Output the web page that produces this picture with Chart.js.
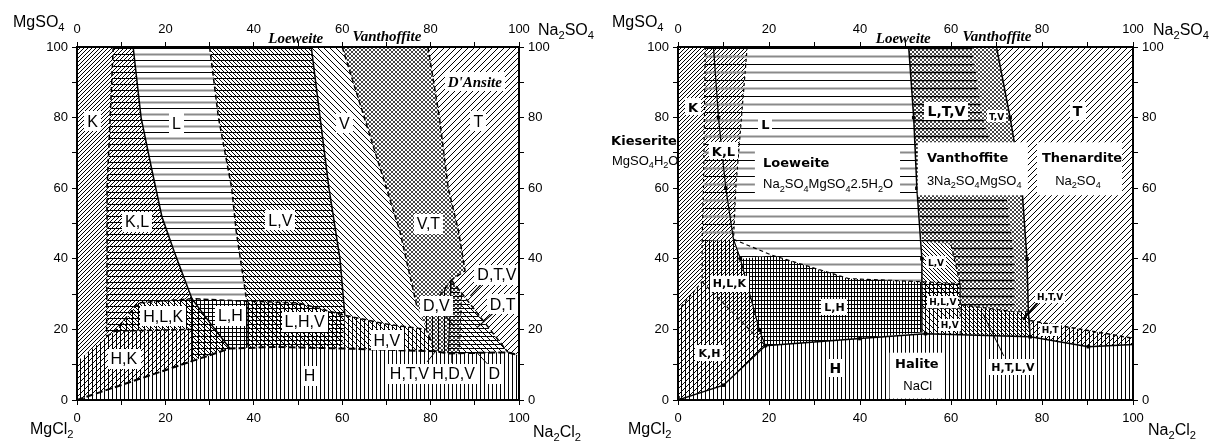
<!DOCTYPE html>
<html><head><meta charset="utf-8">
<script src="https://cdn.jsdelivr.net/npm/chart.js@4.4.1/dist/chart.umd.min.js"></script>
<style>
html,body{margin:0;padding:0;background:#fff;}
#wrap{position:relative;width:1210px;height:444px;overflow:hidden;background:#fff;}
#c1{position:absolute;left:0;top:0;}
#c2{position:absolute;left:605px;top:0;}
</style></head><body>
<div id="wrap"><canvas id="c1" width="600" height="444"></canvas><canvas id="c2" width="605" height="444"></canvas></div>
<script>
// ---------------- axis ticks ----------------
const tickValues = [0, 20, 40, 60, 80, 100];
const topNames = [['Loeweite', 49.5], ['Vanthoffite', 70.1]];

// ---------------- LEFT diagram regions (x = Na2 %, y = SO4 %) ----------------
const lK   = [[0,11],[0,100],[8.2,100],[7.5,80],[6.8,60],[6.8,40],[6.7,18]];
const lKL  = [[8.2,100],[12.7,100],[14.5,80],[16.8,66],[19.2,52],[22,42],[26,28.7],[13.8,27.5],[8.6,19.5],[6.7,18],[6.8,40],[6.8,60],[7.5,80]];
const lL   = [[12.7,100],[30,100],[32,80],[35,60],[36,48],[38.4,28],[26,28.7],[22,42],[19.2,52],[16.8,66],[14.5,80]];
const lLV  = [[30,100],[53,100],[55,80],[57,60],[59.5,40],[60.6,24],[50,27.5],[38.4,28],[36,48],[35,60],[32,80]];
const lV   = [[53,100],[60,100],[65,80],[70,60],[73,48],[76.8,27],[79,20],[70,21.5],[60.6,24],[59.5,40],[57,60],[55,80]];
const lVT  = [[60,100],[79.4,100],[82,80],[84,60],[86.3,48],[87.8,36.6],[84.7,34],[80.5,27],[76.8,27],[73,48],[70,60],[65,80]];
const lT   = [[79.4,100],[100,100],[100,12.7],[97.5,13.5],[87,30],[84.7,34],[87.8,36.6],[86.3,48],[84,60],[82,80]];
const lH   = [[0,0],[26,11],[34.6,14.6],[45,15],[60,14.6],[81,13.8],[84,13.2],[86.5,13.2],[97.5,13.5],[100,12.7],[100,0]];
const lHK  = [[0,0],[0,11],[6.7,18],[8.6,19.5],[26,20],[26,11]];
const lHLK = [[8.6,19.5],[13.8,27.5],[26,28.7],[30,22],[34.6,14.6],[26,11],[26,20]];
const lLH  = [[26,28.7],[38.4,28],[38.4,14.8],[34.6,14.6],[30,22]];
const lLHV = [[38.4,28],[50,27.5],[60.6,24],[60,14.6],[45,15],[38.4,14.8]];
const lHV  = [[60.6,24],[70,21.5],[79,20],[81,13.8],[60,14.6]];
const lDV  = [[76.8,27],[80.5,27],[84.7,34],[84,13.2],[81,13.8],[79,20]];
const lDTV = [[84.7,34],[87,30],[86.5,13.2],[84,13.2]];
const lDT  = [[87,30],[97.5,13.5],[86.5,13.2]];

// left boundaries
const lbKKL  = [[8.2,100],[7.5,80],[6.8,60],[6.8,40],[6.7,18]];
const lbKLL  = [[12.7,100],[14.5,80],[16.8,66],[19.2,52],[22,42],[26,28.7],[30,22],[34.6,14.6]];
const lbLLV  = [[30,100],[32,80],[35,60],[36,48],[38.4,28]];
const lbLVV  = [[53,100],[55,80],[57,60],[59.5,40],[60.6,24]];
const lbVVT  = [[60,100],[65,80],[70,60],[73,48],[76.8,27],[80.5,27],[84.7,34]];
const lbVTT  = [[79.4,100],[82,80],[84,60],[86.3,48],[87.8,36.6],[84.7,34]];
const lbH    = [[0,0],[26,11],[34.6,14.6],[45,15],[60,14.6],[81,13.8],[84,13.2],[97.5,13.5],[100,12.7]];
const lbTop  = [[6.7,18],[8.6,19.5],[13.8,27.5],[26,28.7],[38.4,28],[50,27.5],[60.6,24],[70,21.5],[79,20],[81,13.8]];
const lbHK   = [[8.6,19.5],[26,20]];
const lbVert = [[26,28.7],[26,11]];
const lbLH   = [[38.4,28],[38.4,14.8]];
const lbD1   = [[84.7,34],[97.5,13.5]];
const lbD2   = [[84.7,34],[84,13.2]];
const lbD3   = [[87,30],[86.5,13.2]];
const lPtr1  = [[92,33.5],[89,29.5]];
const lPtr2  = [[94.5,25],[90.5,20.5]];
const lPtr3  = [[83,24.5],[85.2,21]];
const lPtr4  = [[79.2,10.8],[81.4,14.2]];
const lPtr5  = [[84.8,10.5],[84.8,13.2]];
const lPtr6  = [[93.4,9.5],[90.5,13.4]];

const leftLabels = [
  ['K',3.5,79],['L',22.5,78.5],['V',60.5,78.5],['T',90.8,79],
  ['K,L',13.6,50.5],['L,V',46,51],['V,T',79.5,50],
  ['H,L,K',19.5,23.8],['L,H',34.7,24],['H,K',10.6,11.8],['L,H,V',51.5,22.3],['H,V',70.1,17],
  ['H',52.6,7],['H,T,V',75.2,7.5],['H,D,V',85.2,7.5],['D',94.4,7.5],
  ['D,V',81.3,26.8],['D,T,V',95,35.5],['D,T',96.3,27.2]
];
const leftMinerals = [["D'Ansite",90,90.3]];

// ---------------- RIGHT diagram regions ----------------
const rK   = [[0,25.4],[0,100],[6,100],[5.6,60],[5.3,45],[5.3,33.5]];
const rKL  = [[6,100],[15.2,100],[12.7,60],[12.2,45.5],[5.3,45],[5.6,60]];
const rL   = [[15.2,100],[50.7,100],[51.8,80],[52.5,60],[53.6,45],[53.6,33.5],[37.5,34.4],[20.7,41],[13.7,40],[12.2,45.5],[12.7,60]];
const rHLK = [[5.3,45],[12.2,45.5],[13.7,40],[17.9,19.8],[19.2,15.4],[5.3,33.5]];
const rKH  = [[0,0],[0,25.4],[5.3,33.5],[19.2,15.4],[10,4.2]];
const rLH  = [[13.7,40],[20.7,41],[37.5,34.4],[53.6,33.5],[53.6,19.1],[40,17.4],[19.2,15.4],[17.9,19.8]];
const rH   = [[0,0],[10,4.2],[19.2,15.4],[40,17.4],[54.4,18.8],[77.4,17.9],[90.2,15.1],[100,15.7],[100,0]];
const rLTV = [[50.7,100],[64.6,100],[67,80],[72,60],[74,40],[74,25],[62,27],[62,33],[60,44],[53.6,45],[52.5,60],[51.8,80]];
const rTV  = [[64.6,100],[70,100],[73,80],[75.6,60],[76.7,40],[77,25],[74,25],[74,40],[72,60],[67,80]];
const rT   = [[70,100],[100,100],[100,17.5],[77.4,22.5],[77,25],[76.7,40],[75.6,60],[73,80]];
const rLV  = [[53.6,45],[60,44],[62,33],[53.6,33.5]];
const rHLV = [[53.6,33.5],[62,33],[62,26],[53.6,26]];
const rHV  = [[53.6,26],[62,26],[62,18.6],[54.4,18.8],[53.6,19.1]];
const rHTV = [[62,27],[74,25],[77,25],[77.4,22.5],[77.4,17.9],[62,18.6],[62,26]];
const rHT  = [[77.4,22.5],[100,17.5],[100,15.7],[90.2,15.1],[77.4,17.9]];

// right boundaries
const rbKKL  = [[6,100],[5.6,60],[5.3,45],[5.3,33.5],[0,25.4]];
const rbKLL  = [[15.2,100],[12.7,60],[12.2,45.5]];
const rbCurK = [[7.8,100],[8.9,80],[10.5,60],[12.2,45.5],[13.7,40],[17.9,19.8],[19.2,15.4]];
const rbLV   = [[50.7,100],[51.8,80],[52.5,60],[53.6,40],[53.6,19.1]];
const rbVT   = [[70,100],[73,80],[75.6,60],[76.7,40],[77,25],[77.4,17.9]];
const rbH    = [[0,0],[10,4.2],[19.2,15.4],[40,17.4],[54.4,18.8],[77.4,17.9],[90.2,15.1],[100,15.7]];
const rbLHt  = [[12.2,45.5],[20.7,41],[37.5,34.4],[53.6,33.5],[62,33]];
const rbHK   = [[5.3,33.5],[19.2,15.4]];
const rbHT   = [[77.4,22.5],[100,17.5]];
const rbHLV  = [[53.6,26],[62,26]];
const rbV62  = [[62,33],[62,18.6]];
const rbLTV  = [[60,44],[62,33],[62,27],[74,25],[77,25]];
const rPtr1  = [[71.6,12.5],[67,24.5]];
const rPtr2  = [[79,27.5],[75.8,22.8]];
const rMarkers = [[0,0.6],[10,4.2],[19.2,15.4],[40,17.4],[54.4,18.8],[77.4,17.9],[90.2,15.1],
  [8.9,80],[10.5,60],[13.7,40],[17.9,19.8],[51.8,80],[52.5,60],[53.6,40],[73,80],[76.7,40]];

const rLabels14 = [['L,T,V',59,82],['T',87.8,82],['H',34.6,9]];
const rLabels13 = [['K',3.3,83],['L',19.2,78],['K,L',10,70.5]];
const rLabels11 = [['K,H',6.9,13.2],['H,L,K',11.3,33],['L,H',34.4,26.4],['H,T,L,V',73.6,9.4]];
const rLabels9  = [['T,V',70,80.3],['L,V',56.7,39],['H,L,V',58.2,27.8],['H,V',59.7,21.3],['H,T,V',81.8,29.2],['H,T',81.8,19.9]];
const rNames    = [['Loeweite',18.7,67.4],['Vanthoffite',54.7,68.8],['Thenardite',80,68.8],['Kieserite',-14.7,73.6]];
const rFormulas = [['Na_2SO_4MgSO_42.5H_2O',18.7,61.4],['3Na_2SO_4MgSO_4',54.7,62.3],['Na_2SO_4',82.9,62.3],['MgSO_4H_2O',-14.5,68]];
const rHalite   = [['Halite',52.5,10.3]];
const rNaCl     = [['NaCl',52.7,4.2]];
const rBoxes    = [[16.9,57.8,48.8,71.4],[52.7,58,76.9,73],[78.9,58,97.6,73],[46.5,0.4,58.2,13.4]];

// ---------------- styling helpers ----------------
function hatch(spec, S) {
  S = S || 12;
  const c = document.createElement('canvas'); c.width = S; c.height = S;
  const g = c.getContext('2d');
  g.fillStyle = '#fff'; g.fillRect(0, 0, S, S);
  spec.forEach(p => {
    const [t, d, o = 0, w = 1, col = '#000'] = p;
    g.lineWidth = w; g.strokeStyle = col; g.beginPath();
    if (t === 'h') for (let y = o; y < S; y += d) { g.moveTo(0, y + 0.5); g.lineTo(S, y + 0.5); }
    if (t === 'v') for (let x = o; x < S; x += d) { g.moveTo(x + 0.5, 0); g.lineTo(x + 0.5, S); }
    if (t === 's') for (let k = -S; k <= 2 * S; k += d) { g.moveTo(k, 0); g.lineTo(k - S, S); }
    if (t === 'b') for (let k = -2 * S; k <= S; k += d) { g.moveTo(k, 0); g.lineTo(k + S, S); }
    g.stroke();
  });
  return g.createPattern(c, 'repeat');
}
const Lgray = [['h',12,0,1],['h',12,6,2,'#8a8a8a']];
const Rgray = [['h',16,0,1],['h',16,8,2,'#8a8a8a']];
const XH = [['s',4,0,1,'#444'],['b',4,0,1,'#444']];

const P = a => a.map(([x, y]) => ({x, y}));
function poly(pts, pat) {
  return {data: P(pts.concat([pts[0]])), fill: 'shape', backgroundColor: pat, borderWidth: 0,
    borderColor: 'rgba(0,0,0,0)', pointRadius: 0, order: 10, tension: 0};
}
function ln(pts, dash, w) {
  return {data: P(pts), fill: false, borderColor: '#000', borderWidth: w || 1.5, borderDash: dash || [],
    pointRadius: 0, order: 2, tension: 0};
}
const DASH = [5, 3];

const leftSets = [
  poly(lK, hatch([['s',4]])),
  poly(lKL, hatch([['h',6],['s',4]])),
  poly(lL, hatch(Lgray)),
  poly(lLV, hatch([['h',6],['b',4]])),
  poly(lV, hatch([['b',6]])),
  poly(lVT, hatch(XH)),
  poly(lT, hatch([['s',6]])),
  poly(lH, hatch([['v',4]])),
  poly(lHK, hatch([['v',4],['s',6]])),
  poly(lHLK, hatch([['v',6],['b',4],['h',6]])),
  poly(lLH, hatch([['v',4],['h',4]])),
  poly(lLHV, hatch([['v',4],['h',4],['b',6]])),
  poly(lHV, hatch([['v',4],['b',6]])),
  poly(lDV, hatch(XH.concat([['v',6]]))),
  poly(lDTV, hatch(XH.concat([['h',4]]))),
  poly(lDT, hatch([['h',4],['b',6]])),
  ln(lbKKL, DASH), ln(lbKLL), ln(lbLLV, DASH), ln(lbLVV), ln(lbVVT, DASH), ln(lbVTT, DASH),
  ln(lbH, [7,3], 2), ln(lbTop, DASH), ln(lbHK, DASH), ln(lbVert, [], 1), ln(lbLH, [], 1),
  ln(lbD1, DASH), ln(lbD2, [], 1), ln(lbD3, DASH, 1),
  ln(lPtr1, [], 1.2), ln(lPtr2, [], 1.2), ln(lPtr3, [], 1.2), ln(lPtr4, [], 1), ln(lPtr5, [], 1), ln(lPtr6, [], 1)
];

const rightSets = [
  poly(rK, hatch([['s',4]])),
  poly(rKL, hatch([['s',4]].concat(Rgray), 16)),
  poly(rL, hatch(Rgray, 16)),
  poly(rHLK, hatch([['v',4],['s',4]])),
  poly(rKH, hatch([['v',4],['s',6]])),
  poly(rLH, hatch([['v',3],['h',4]])),
  poly(rH, hatch([['v',4]])),
  poly(rLTV, hatch(XH.concat([['h',8,0,1.5]]), 16)),
  poly(rTV, hatch(XH)),
  poly(rT, hatch([['s',6]])),
  poly(rLV, hatch([['b',4]])),
  poly(rHLV, hatch([['v',4],['h',4],['b',6]])),
  poly(rHV, hatch([['v',4],['b',6]])),
  poly(rHTV, hatch([['v',4],['b',4]])),
  poly(rHT, hatch([['v',4],['s',6]])),
  ln(rbKKL, [3,3], 1.2), ln(rbKLL, [3,3], 1.2), ln(rbCurK, [], 1.2), ln(rbLV, [], 1.5), ln(rbVT, [], 1.5),
  ln(rbH, [], 1.5), ln(rbLHt, [4,3], 1.2), ln(rbHK, [4,3], 1.2), ln(rbHT, [4,3], 1.5), ln(rbHLV, [3,3], 1),
  ln(rbV62, [3,3], 1), ln(rbLTV, [4,3], 1.2), ln(rPtr1, [], 1), ln(rPtr2, [], 2),
  {data: P(rMarkers), showLine: false, pointStyle: 'rect', pointRadius: 2.5, pointBackgroundColor: '#000',
   pointBorderColor: '#000', borderWidth: 0, order: 1}
];

// ---------------- text helpers ----------------
function parseRich(s) {
  const parts = []; let i = 0;
  while (i < s.length) {
    if (s[i] === '_') { parts.push({t: s[i + 1], sub: true}); i += 2; }
    else { let j = i; while (j < s.length && s[j] !== '_') j++; parts.push({t: s.slice(i, j), sub: false}); i = j; }
  }
  return parts;
}
function fnt(st, size) { return (st.style || 'normal') + ' ' + (st.weight || 'normal') + ' ' + size + 'px "' + st.family + '"'; }
function richWidth(ctx, s, st) {
  let w = 0;
  parseRich(s).forEach(p => { ctx.font = fnt(st, p.sub ? st.size * 0.7 : st.size); w += ctx.measureText(p.t).width; });
  return w;
}
function richDraw(ctx, s, x, baseline, st) {
  let cx = x;
  ctx.textBaseline = 'alphabetic'; ctx.textAlign = 'left'; ctx.fillStyle = '#000';
  parseRich(s).forEach(p => {
    const sz = p.sub ? st.size * 0.7 : st.size;
    ctx.font = fnt(st, sz);
    ctx.fillText(p.t, cx, baseline + (p.sub ? st.size * 0.28 : 0));
    cx += ctx.measureText(p.t).width;
  });
}
function drawLabels(chart, list, st, opt) {
  const ctx = chart.ctx, xs = chart.scales.x, ys = chart.scales.y;
  list.forEach(([t, xv, yv]) => {
    const px = xs.getPixelForValue(xv), py = ys.getPixelForValue(yv);
    const w = richWidth(ctx, t, st);
    const x0 = opt.left ? px : px - w / 2;
    const capH = st.size * 0.72;
    if (opt.box) {
      const pad = opt.pad || 3;
      ctx.fillStyle = '#fff';
      ctx.fillRect(Math.round(x0 - pad), Math.round(py - capH / 2 - pad - 1), Math.round(w + 2 * pad), Math.round(capH + 2 * pad + 2));
    }
    richDraw(ctx, t, x0, py + capH / 2, st);
  });
}
const F_SANS = 'Liberation Sans', F_BOLD = 'DejaVu Sans', F_SERIF = 'Liberation Serif';
const stTitle = {family: F_SANS, size: 16};
const stTop = {family: F_SERIF, size: 15, weight: 'bold', style: 'italic'};

function titlesPlugin(pos) {
  return {
    id: 'titles',
    afterDraw(chart) {
      const ctx = chart.ctx, a = chart.chartArea, xs = chart.scales.x;
      ctx.save();
      richDraw(ctx, 'MgSO_4', a.left + pos.mgso[0], a.top + pos.mgso[1], stTitle);
      richDraw(ctx, 'Na_2SO_4', a.right + pos.naso[0], a.top + pos.naso[1], stTitle);
      richDraw(ctx, 'MgCl_2', a.left + pos.mgcl[0], a.bottom + pos.mgcl[1], stTitle);
      richDraw(ctx, 'Na_2Cl_2', a.right + pos.nacl[0], a.bottom + pos.nacl[1], stTitle);
      topNames.forEach(([t, v], i) => {
        const w = richWidth(ctx, t, stTop);
        richDraw(ctx, t, xs.getPixelForValue(v) - w / 2, a.top - (i === 0 ? 4 : 6), stTop);
      });
      ctx.restore();
    }
  };
}

function axes(g) {
  const mk = (pos, size, horiz) => ({
    type: 'linear', position: pos, min: 0, max: 100,
    ticks: {stepSize: 10, autoSkip: false, maxRotation: 0, color: '#000', font: {family: F_SANS, size: 13},
      padding: pos === 'bottom' ? 6 : (pos === 'top' ? 5 : 4),
      callback: v => (tickValues.includes(v) ? String(v) : '')},
    grid: {drawOnChartArea: false, color: '#000', tickLength: 5, lineWidth: 1},
    border: {display: true, color: '#000', width: 2, z: 1},
    afterFit: s => { if (horiz) s.height = size; else s.width = size; }
  });
  return {x: mk('bottom', g.b, true), x2: mk('top', g.t, true), y: mk('left', g.l, false), y2: mk('right', g.r, false)};
}

function baseOptions(g) {
  return {
    responsive: false, animation: false, events: [],
    layout: {padding: 0},
    plugins: {legend: {display: false}, tooltip: {enabled: false}},
    scales: axes(g)
  };
}

const leftLabelPlugin = {
  id: 'leftLabels',
  afterDatasetsDraw(chart) {
    chart.ctx.save();
    drawLabels(chart, leftLabels, {family: F_SANS, size: 16}, {box: true, pad: 3});
    drawLabels(chart, leftMinerals, {family: F_SERIF, size: 15, weight: 'bold', style: 'italic'}, {box: true, pad: 3});
    chart.ctx.restore();
  }
};
const rightLabelPlugin = {
  id: 'rightLabels',
  afterDatasetsDraw(chart) {
    const ctx = chart.ctx, xs = chart.scales.x, ys = chart.scales.y;
    ctx.save();
    ctx.fillStyle = '#fff';
    rBoxes.forEach(([x1, y1, x2, y2]) => {
      const a = xs.getPixelForValue(x1), b = ys.getPixelForValue(y2), c = xs.getPixelForValue(x2), d = ys.getPixelForValue(y1);
      ctx.fillRect(a, b, c - a, d - b);
    });
    drawLabels(chart, rLabels14, {family: F_BOLD, size: 14, weight: 'bold'}, {box: true, pad: 3});
    drawLabels(chart, rLabels13, {family: F_BOLD, size: 13, weight: 'bold'}, {box: true, pad: 3});
    drawLabels(chart, rLabels11, {family: F_BOLD, size: 11, weight: 'bold'}, {box: true, pad: 3});
    drawLabels(chart, rLabels9, {family: F_BOLD, size: 9, weight: 'bold'}, {box: true, pad: 2});
    drawLabels(chart, rNames, {family: F_BOLD, size: 13, weight: 'bold'}, {left: true});
    drawLabels(chart, rFormulas, {family: F_SANS, size: 13}, {left: true});
    drawLabels(chart, rHalite, {family: F_BOLD, size: 13, weight: 'bold'}, {});
    drawLabels(chart, rNaCl, {family: F_SANS, size: 13}, {});
    ctx.restore();
  }
};

const gL = {l: 77, r: 81, t: 47, b: 44};
const gR = {l: 73, r: 77, t: 47, b: 44};

new Chart(document.getElementById('c1'), {
  type: 'line',
  data: {datasets: leftSets},
  options: baseOptions(gL),
  plugins: [leftLabelPlugin, titlesPlugin({mgso: [-64, -20], naso: [19, -12], mgcl: [-47, 34], nacl: [14, 37]})]
});
new Chart(document.getElementById('c2'), {
  type: 'line',
  data: {datasets: rightSets},
  options: baseOptions(gR),
  plugins: [rightLabelPlugin, titlesPlugin({mgso: [-66, -20], naso: [20, -12], mgcl: [-50, 34], nacl: [15, 35]})]
});
</script>
</body></html>
